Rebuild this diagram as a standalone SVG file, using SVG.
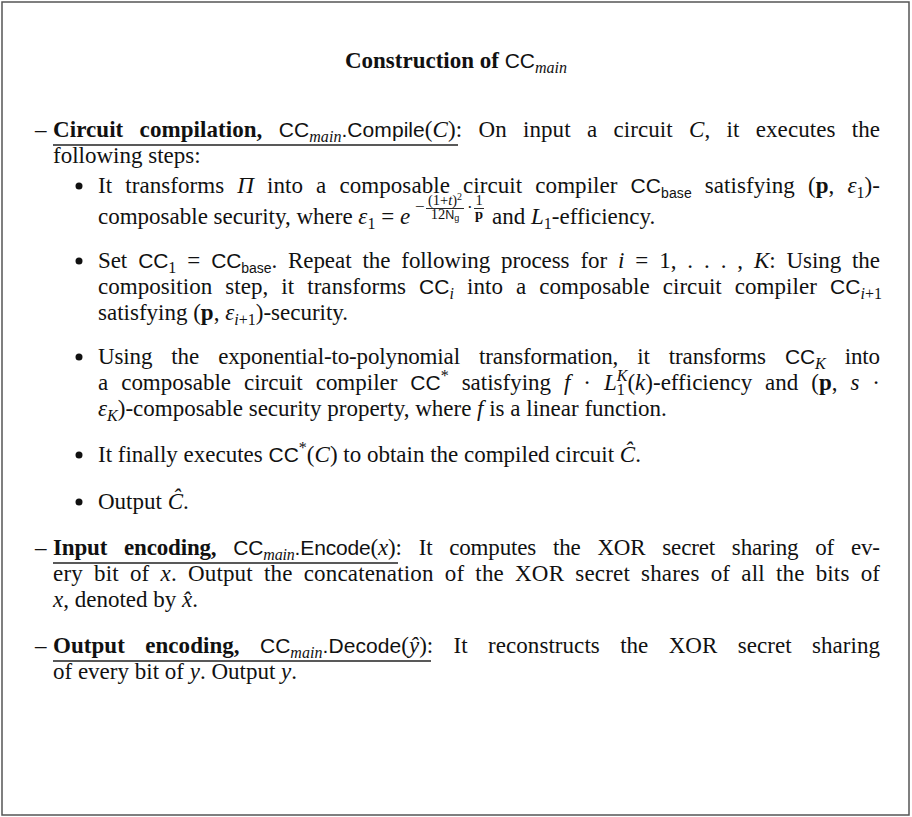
<svg xmlns="http://www.w3.org/2000/svg" width="912" height="817" viewBox="0 0 912 817">
<style>
text{font-family:"Liberation Serif","Times New Roman",serif;font-size:23px;fill:#111}
.b{font-weight:bold}
.i{font-style:italic}
.s{font-family:"Liberation Sans",Arial,sans-serif;font-size:21px;font-style:normal}
.sub{font-size:16px}
.ss{font-family:"Liberation Sans",Arial,sans-serif;font-size:14px}
.ul{stroke:#222;stroke-width:1.3}
.bar{stroke:#111;stroke-width:0.9}
.dot{fill:#111}
.ex{font-size:14.5px}
</style>
<rect x="0" y="0" width="912" height="817" fill="#fff"/>
<rect id="frame" x="2" y="2" width="907" height="813" fill="none" stroke="#555" stroke-width="1.5"/>

<g id="title">
<text x="456" y="68" text-anchor="middle"><tspan class="b">Construction of </tspan><tspan class="s">CC</tspan><tspan class="i sub" dy="5">main</tspan></text>
</g>

<g id="compile">
<text x="35" y="137">–</text>
<text x="53" y="137" textLength="827" lengthAdjust="spacing" style="word-spacing:10.5px"><tspan class="b">Circuit compilation,</tspan> <tspan class="s">CC</tspan><tspan class="i sub" dy="5">main</tspan><tspan class="s" dy="-5">.Compile</tspan>(<tspan class="i">C</tspan>): On input a circuit <tspan class="i">C</tspan>, it executes the</text>
<line class="ul" x1="53" y1="145" x2="458" y2="145"/>
<text x="53" y="163">following steps:</text>

<g id="step1">
<circle class="dot" cx="79" cy="186" r="3.5"/>
<text x="98" y="193" textLength="782" lengthAdjust="spacing" style="word-spacing:7.2px">It transforms <tspan class="i">Π</tspan> into a composable circuit compiler <tspan class="s">CC</tspan><tspan class="ss" dy="5">base</tspan> <tspan dy="-5">satisfying (</tspan><tspan class="b">p</tspan>, <tspan class="i">ε</tspan><tspan class="sub" dy="5">1</tspan><tspan dy="-5">)-</tspan></text>
<text x="98" y="224">composable security, where <tspan class="i">ε</tspan><tspan class="sub" dy="5">1</tspan><tspan dy="-5"> = </tspan><tspan class="i">e</tspan></text>
<text x="415" y="212" style="font-size:17px">−</text>
<text x="445" y="205" text-anchor="middle" class="ex">(1+<tspan class="i">t</tspan>)<tspan style="font-size:10px" dy="-5">2</tspan></text>
<line class="bar" x1="426" y1="208.5" x2="464" y2="208.5"/>
<text x="445" y="219" text-anchor="middle" class="ex">12<tspan class="s" style="font-size:12.5px">N</tspan><tspan class="s" style="font-size:9px" dy="2">g</tspan></text>
<text x="467" y="213" style="font-size:17px">·</text>
<text x="479" y="205" text-anchor="middle" class="ex">1</text>
<line class="bar" x1="474" y1="208.5" x2="484" y2="208.5"/>
<text x="479" y="219" text-anchor="middle" class="b ex">p</text>
<text x="492" y="224">and <tspan class="i">L</tspan><tspan class="sub" dy="5">1</tspan><tspan dy="-5">-efficiency.</tspan></text>
</g>

<g id="step2">
<circle class="dot" cx="79" cy="261" r="3.5"/>
<text x="98" y="268" textLength="782" lengthAdjust="spacing" style="word-spacing:5.3px">Set <tspan class="s">CC</tspan><tspan class="sub" dy="5">1</tspan><tspan dy="-5"> = </tspan><tspan class="s">CC</tspan><tspan class="ss" dy="5">base</tspan><tspan dy="-5">. Repeat the following process for </tspan><tspan class="i">i</tspan> = 1, . . . , <tspan class="i">K</tspan>: Using the</text>
<text x="98" y="294" textLength="784" lengthAdjust="spacing" style="word-spacing:7.2px">composition step, it transforms <tspan class="s">CC</tspan><tspan class="i sub" dy="5">i</tspan><tspan dy="-5"> into a composable circuit compiler </tspan><tspan class="s">CC</tspan><tspan class="sub" dy="5"><tspan class="i">i</tspan>+1</tspan></text>
<text x="98" y="320">satisfying (<tspan class="b">p</tspan>, <tspan class="i">ε</tspan><tspan class="sub" dy="5"><tspan class="i">i</tspan>+1</tspan><tspan dy="-5">)-security.</tspan></text>
</g>

<g id="step3">
<circle class="dot" cx="79" cy="357" r="3.5"/>
<text x="98" y="364" textLength="782" lengthAdjust="spacing" style="word-spacing:13.5px">Using the exponential-to-polynomial transformation, it transforms <tspan class="s">CC</tspan><tspan class="i sub" dy="5">K</tspan><tspan dy="-5"> into</tspan></text>
<text x="98" y="390" textLength="782" lengthAdjust="spacing" style="word-spacing:7.2px">a composable circuit compiler <tspan class="s">CC</tspan><tspan class="sub" dy="-9">*</tspan><tspan dy="9"> satisfying </tspan><tspan class="i">f</tspan> · <tspan class="i">L</tspan><tspan class="sub" dy="5">1</tspan><tspan class="i sub" dx="-8" dy="-14">K</tspan><tspan dy="9">(</tspan><tspan class="i">k</tspan>)-efficiency and (<tspan class="b">p</tspan>, <tspan class="i">s</tspan> ·</text>
<text x="98" y="416"><tspan class="i">ε</tspan><tspan class="i sub" dy="5">K</tspan><tspan dy="-5">)-composable security property, where </tspan><tspan class="i">f</tspan> is a linear function.</text>
</g>

<g id="step4">
<circle class="dot" cx="79" cy="455" r="3.5"/>
<text x="98" y="462">It finally executes <tspan class="s">CC</tspan><tspan class="sub" dy="-9">*</tspan><tspan dy="9">(</tspan><tspan class="i">C</tspan>) to obtain the compiled circuit <tspan class="i">Ĉ</tspan>.</text>
</g>

<g id="step5">
<circle class="dot" cx="79" cy="502" r="3.5"/>
<text x="98" y="509">Output <tspan class="i">Ĉ</tspan>.</text>
</g>
</g>

<g id="encode">
<text x="35" y="555">–</text>
<text x="53" y="555" textLength="827" lengthAdjust="spacing" style="word-spacing:11.3px"><tspan class="b">Input encoding,</tspan> <tspan class="s">CC</tspan><tspan class="i sub" dy="5">main</tspan><tspan class="s" dy="-5">.Encode</tspan>(<tspan class="i">x</tspan>): It computes the XOR secret sharing of ev-</text>
<line class="ul" x1="53" y1="563" x2="398" y2="563"/>
<text x="53" y="581" textLength="827" lengthAdjust="spacing" style="word-spacing:5.2px">ery bit of <tspan class="i">x</tspan>. Output the concatenation of the XOR secret shares of all the bits of</text>
<text x="53" y="607"><tspan class="i">x</tspan>, denoted by <tspan class="i">x̂</tspan>.</text>
</g>

<g id="decode">
<text x="35" y="653">–</text>
<text x="53" y="653" textLength="827" lengthAdjust="spacing" style="word-spacing:14.5px"><tspan class="b">Output encoding,</tspan> <tspan class="s">CC</tspan><tspan class="i sub" dy="5">main</tspan><tspan class="s" dy="-5">.Decode</tspan>(<tspan class="i">ŷ</tspan>): It reconstructs the XOR secret sharing</text>
<line class="ul" x1="53" y1="661" x2="431" y2="661"/>
<text x="53" y="679">of every bit of <tspan class="i">y</tspan>. Output <tspan class="i">y</tspan>.</text>
</g>
</svg>
